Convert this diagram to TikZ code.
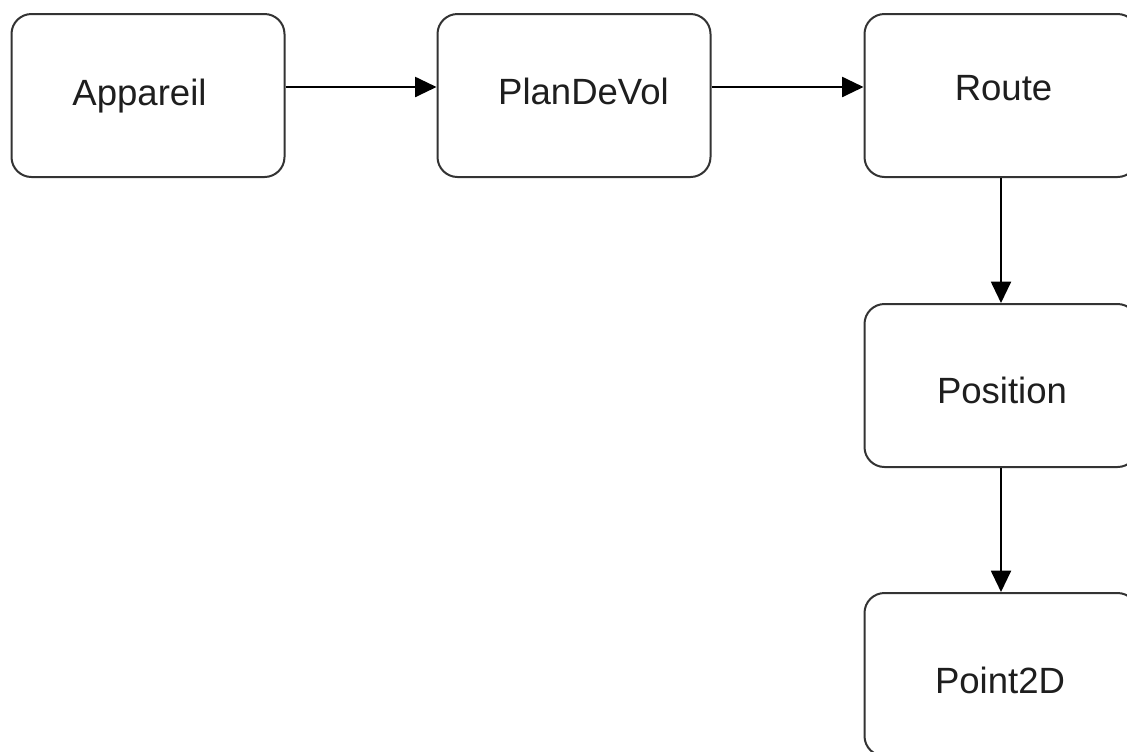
\documentclass[tikz,border=0pt]{standalone}
\usepackage{fontspec}
\setmainfont{Liberation Sans}
\usetikzlibrary{arrows.meta}
\definecolor{edgegray}{HTML}{333333}
\definecolor{txtgray}{HTML}{1E1E1E}
\tikzset{
  box/.style={draw=edgegray, line width=1.5pt, rounded corners=15pt, minimum width=204.75pt, minimum height=122.25pt, inner sep=0pt},
  lbl/.style={anchor=base, inner sep=0pt, text=txtgray, font=\fontsize{27.4pt}{32pt}\selectfont},
  conn/.style={draw=black, line width=1.5pt, -{Triangle[length=16pt,width=15pt]}}
}
\begin{document}
\begin{tikzpicture}[x=0.75pt,y=-0.75pt]
\useasboundingbox (0,0) rectangle (1127,751);
\clip (0,0) rectangle (1127,751);
\fill[white] (0,0) rectangle (1127,751);
\node[box] (app) at (148,95.5) {};
\node[box] (plan) at (574,95.5) {};
\node[box] (route) at (1001,95.5) {};
\node[box] (pos) at (1001,385.5) {};
\node[box] (pt) at (1001,674.5) {};
\node[lbl] (appt) at (139.5,105) {Appareil};
\node[lbl] (plant) at (583.5,104) {PlanDeVol};
\node[lbl] (routet) at (1003.5,100) {Route};
\node[lbl] (post) at (1002,403) {Position};
\node[lbl] (ptt) at (1000,693) {Point2D};
\draw[conn] ([yshift=6.375pt]app.east) -- ([yshift=6.375pt]plan.west);
\draw[conn] ([yshift=6.375pt]plan.east) -- ([yshift=6.375pt]route.west);
\draw[conn] (route.south) -- (pos.north);
\draw[conn] (pos.south) -- (pt.north);
\end{tikzpicture}
\end{document}
